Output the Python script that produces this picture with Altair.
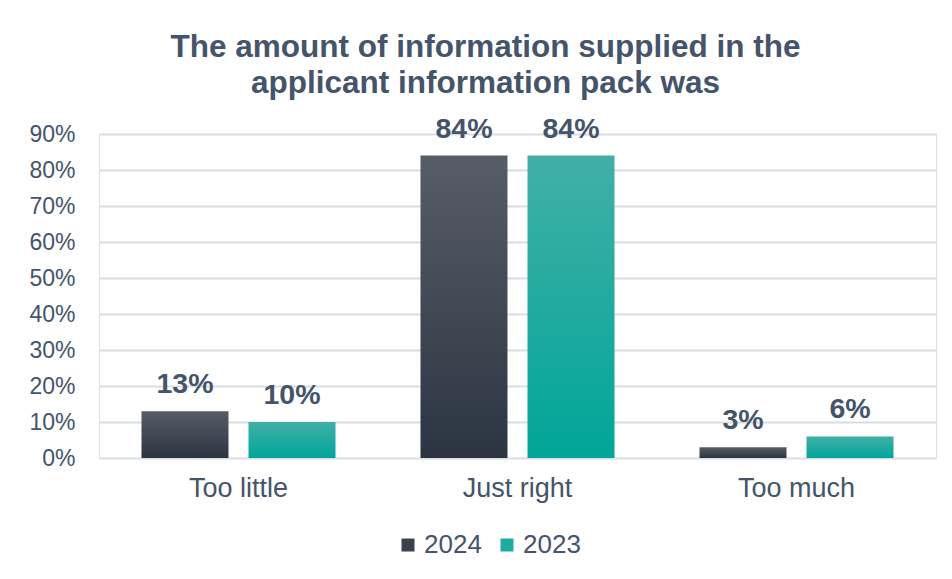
import altair as alt
import pandas as pd

categories = ["Too little", "Just right", "Too much"]
years = ["2024", "2023"]
values_2024 = [13, 84, 3]
values_2023 = [10, 84, 6]
y_ticks = [0, 10, 20, 30, 40, 50, 60, 70, 80, 90]

rows = []
for c, v in zip(categories, values_2024):
    rows.append({"category": c, "year": "2024", "value": v / 100})
for c, v in zip(categories, values_2023):
    rows.append({"category": c, "year": "2023", "value": v / 100})
df = pd.DataFrame(rows)

TXT = "#44546A"
FONT = "Liberation Sans"

grad_2024 = alt.Gradient(gradient="linear", x1=0, y1=0, x2=0, y2=1,
                         stops=[alt.GradientStop(color="#575D66", offset=0),
                                alt.GradientStop(color="#2B3542", offset=1)])
grad_2023 = alt.Gradient(gradient="linear", x1=0, y1=0, x2=0, y2=1,
                         stops=[alt.GradientStop(color="#42AFA6", offset=0),
                                alt.GradientStop(color="#00A699", offset=1)])

x_enc = alt.X("category:N", sort=categories,
              scale=alt.Scale(paddingInner=0, paddingOuter=0),
              axis=alt.Axis(title=None, labelAngle=0, labelFontSize=27, labelColor=TXT,
                            labelFont=FONT, domain=False, ticks=False, labelPadding=17))
xo_enc = alt.XOffset("year:N", sort=years,
                     scale=alt.Scale(paddingInner=0.187, paddingOuter=0.397))
y_enc = alt.Y("value:Q",
              scale=alt.Scale(domain=[0, 0.9], nice=False),
              axis=alt.Axis(title=None, format=".0%", values=[t / 100 for t in y_ticks],
                            labelFontSize=23, labelColor=TXT, labelFont=FONT,
                            domain=False, ticks=False, labelPadding=24,
                            gridColor="#D9DDE3", gridWidth=2))

base = alt.Chart(df)

bars = base.mark_bar().encode(
    x=x_enc, xOffset=xo_enc, y=y_enc,
    fill=alt.condition(alt.datum.year == "2024", alt.value(grad_2024), alt.value(grad_2023)),
)

labels = base.mark_text(baseline="bottom", dy=-12, fontSize=28.5, fontWeight="bold",
                        color=TXT, font=FONT).encode(
    x=x_enc, xOffset=xo_enc, y=y_enc,
    text=alt.Text("value:Q", format=".0%"),
)

legend_layer = base.mark_square(opacity=0).encode(
    x=x_enc, xOffset=xo_enc, y=y_enc,
    color=alt.Color("year:N", sort=years,
                    scale=alt.Scale(domain=years, range=["#3A424D", "#1FAAA0"]),
                    legend=alt.Legend(title=None, orient="none", direction="horizontal",
                                      legendX=296, legendY=398,
                                      symbolType="square", symbolSize=169,
                                      symbolOpacity=1, labelFontSize=26,
                                      labelColor=TXT, labelFont=FONT,
                                      columnPadding=12, labelOffset=3)),
)

chart = alt.layer(bars, labels, legend_layer).properties(
    width=837, height=324,
    autosize=alt.AutoSizeParams(type="none"),
    padding={"left": 91, "top": 126, "right": 8, "bottom": 105},
    title=alt.TitleParams(
        text=["The amount of information supplied in the", "applicant information pack was"],
        fontSize=31.5, fontWeight="bold", color=TXT, font=FONT,
        anchor="middle", dx=-32, offset=15, lineHeight=36,
    ),
).configure_view(stroke=None).configure(background="white")

chart.save("out.html", embed_options={"renderer": "svg", "actions": False})
